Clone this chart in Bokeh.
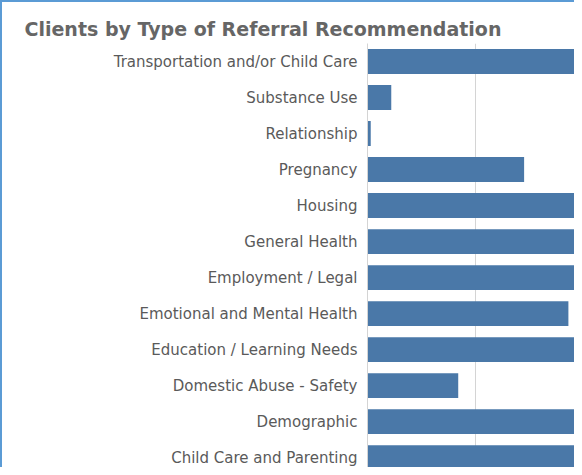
from bokeh.plotting import figure
from bokeh.models import Range1d, FixedTicker, Title
from bokeh.embed import file_html
from bokeh.resources import INLINE

categories = [
    "Child Care and Parenting",
    "Demographic",
    "Domestic Abuse - Safety",
    "Education / Learning Needs",
    "Emotional and Mental Health",
    "Employment / Legal",
    "General Health",
    "Housing",
    "Pregnancy",
    "Relationship",
    "Substance Use",
    "Transportation and/or Child Care",
]
clients = [220, 280, 84, 250, 186, 210, 240, 260, 145, 3, 22, 230]
grid_ticks = [100, 200]

positions = list(range(len(categories)))

p = figure(width=574, height=467, output_backend="svg", toolbar_location=None,
           x_range=Range1d(0, 193.5), y_range=Range1d(-0.33, 11.5),
           x_axis_location=None, min_border_left=365, min_border_right=0,
           min_border_top=41, min_border_bottom=0)

p.hbar(y=positions, right=clients, left=0, height=0.69,
       fill_color="#4a78a8", line_color=None)

t = Title(text="Clients by Type of Referral Recommendation", align="left",
          offset=-343, text_font="DejaVu Sans", text_font_style="bold",
          text_font_size="19px", text_color="#666666", standoff=8)
p.title = t

p.yaxis.ticker = FixedTicker(ticks=positions)
p.yaxis.major_label_overrides = {i: c for i, c in zip(positions, categories)}
p.yaxis.major_tick_line_color = None
p.yaxis.minor_tick_line_color = None
p.yaxis.axis_line_color = "#d4d4d4"
p.yaxis.major_label_text_font = "DejaVu Sans"
p.yaxis.major_label_text_font_size = "15px"
p.yaxis.major_label_text_color = "#5a5a5a"
p.yaxis.major_label_standoff = 4

p.ygrid.grid_line_color = None
p.xgrid.ticker = FixedTicker(ticks=grid_ticks)
p.xgrid.grid_line_color = "#d4d4d4"
p.outline_line_color = None
p.styles = {"border-left": "2px solid #5b9bd5", "border-top": "2px solid #5b9bd5"}

open("out.html", "w").write(file_html(p, INLINE))
